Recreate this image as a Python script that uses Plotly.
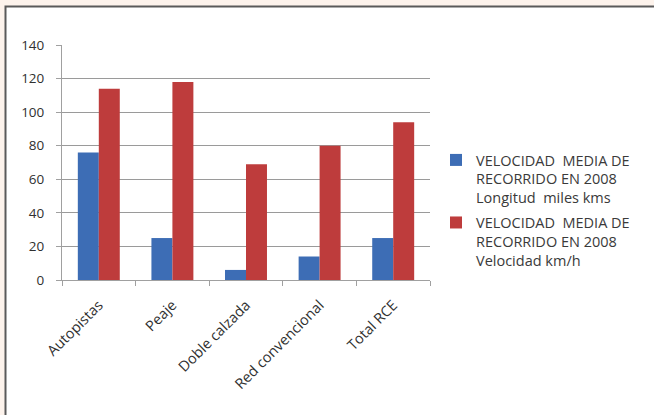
import plotly.graph_objects as go

categories = ["Autopistas", "Peaje", "Doble calzada", "Red convencional", "Total RCE"]
longitud = [76, 25, 6, 14, 25]
velocidad = [114, 118, 69, 80, 94]
series_names = [
    "VELOCIDAD  MEDIA DE<br>RECORRIDO EN 2008<br>Longitud  miles kms",
    "VELOCIDAD  MEDIA DE<br>RECORRIDO EN 2008<br>Velocidad km/h",
]
y_ticks = [0, 20, 40, 60, 80, 100, 120, 140]

W, H = 654, 415
L, R, T, B = 62, 224, 45, 135
pw, ph = W - L - R, H - T - B

def px(x):
    return (x - L) / pw

def py(y):
    return (H - B - y) / ph

FONT = "'Open Sans', Lato, sans-serif"

fig = go.Figure()
fig.add_trace(go.Bar(x=categories, y=longitud, name=series_names[0],
                     marker=dict(color="#3D6DB5", line=dict(width=0)), legendgroup="a"))
fig.add_trace(go.Bar(x=categories, y=velocidad, name=series_names[1],
                     marker=dict(color="#BE3C3C", line=dict(width=0)), legendgroup="b"))

# outer frame
fig.add_shape(type="rect", xref="paper", yref="paper",
              x0=px(5.5), x1=px(680), y0=py(440), y1=py(6.5),
              fillcolor="white", line=dict(color="#5A5A5A", width=2), layer="below")

fig.update_layout(
    width=W, height=H,
    margin=dict(l=L, r=R, t=T, b=B, pad=0),
    paper_bgcolor="#FDF3EC",
    plot_bgcolor="white",
    barmode="group",
    bargap=0.43,
    bargroupgap=0,
    font=dict(family=FONT, size=13, color="#404040"),
    showlegend=True,
    legend=dict(x=px(436), y=py(144), xanchor="left", yanchor="top",
                valign="top", bgcolor="rgba(0,0,0,0)", tracegroupgap=3,
                traceorder="grouped",
                font=dict(family=FONT, size=14.5, color="#3A3A3A")),
    xaxis=dict(showgrid=False, showline=True, linecolor="#A0A0A0", linewidth=1,
               ticks="outside", tickson="boundaries", ticklen=5, tickcolor="#A0A0A0",
               ticklabelstandoff=10,
               tickangle=-45, tickfont=dict(family=FONT, size=14.5, color="#303030")),
    yaxis=dict(range=[0, 140], tickvals=y_ticks, showgrid=True, gridcolor="#9A9A9A",
               gridwidth=1, showline=True, linecolor="#A0A0A0", linewidth=1,
               ticks="outside", ticklen=5, tickcolor="#A0A0A0",
               ticklabelstandoff=9,
               tickfont=dict(family=FONT, size=13.5, color="#303030"), zeroline=False),
)

fig.write_html("out.html", config={"displayModeBar": False},
               post_script="document.body.style.margin='0';document.body.style.overflow='hidden';")
